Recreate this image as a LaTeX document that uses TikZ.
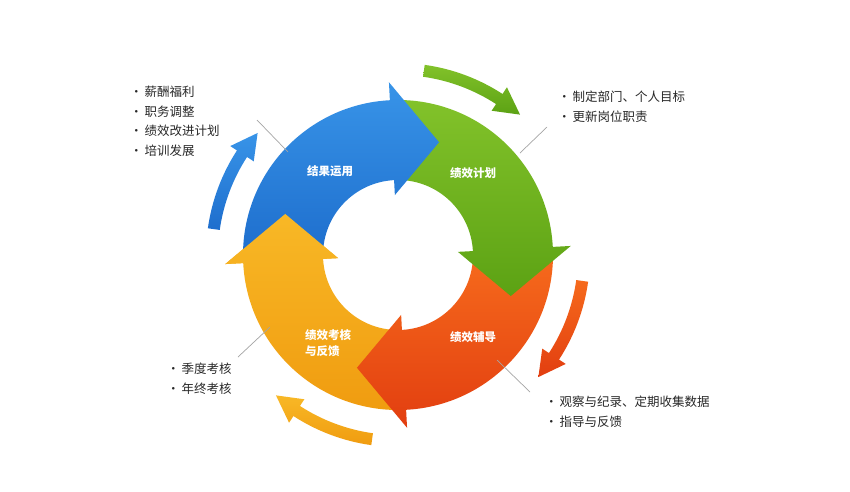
\documentclass[tikz,border=0pt]{standalone}
\usepackage{fontspec}
\setmainfont{Noto Sans CJK SC}
\definecolor{cyBlueT}{RGB}{56, 148, 232}
\definecolor{cyBlueB}{RGB}{30, 110, 205}
\definecolor{cyGreenT}{RGB}{130, 194, 42}
\definecolor{cyGreenB}{RGB}{92, 162, 20}
\definecolor{cyRedT}{RGB}{246, 106, 28}
\definecolor{cyRedB}{RGB}{226, 62, 16}
\definecolor{cyGoldT}{RGB}{248, 184, 38}
\definecolor{cyGoldB}{RGB}{240, 156, 16}
\definecolor{cyText}{RGB}{40, 40, 40}
\definecolor{cyLead}{RGB}{165, 165, 165}
\tikzset{
  Item/.style   = {anchor=west, inner sep=0pt, text=cyText, font=\fontsize{12.5}{14}\selectfont},
  Label/.style  = {text=white, align=left, inner sep=0pt, font=\fontsize{11.5}{15.5}\selectfont\bfseries},
  Leader/.style = {draw=cyLead, line width=0.7pt},
}
% big ring arrow, head base at angle #1
\newcommand{\ringpath}[1]{(#1+90:155) arc[start angle=#1+90, end angle=#1+3, radius=155]
  -- (#1+3:173) -- (#1-20:120) -- (#1+3:60) -- (#1+3:75)
  arc[start angle=#1+3, end angle=#1+90, radius=75] -- cycle}
\newcommand{\ringhead}[1]{(#1+3:173) -- (#1-20:120) -- (#1+3:60) -- cycle}
% small outer arrow, quarter #1
\newcommand{\turnpath}[1]{(#1-8:192) arc[start angle=#1-8, end angle=#1-33, radius=192]
  -- (#1-33:200) -- (#1-41:186) -- (#1-33:172) -- (#1-33:180)
  arc[start angle=#1-33, end angle=#1-8, radius=180] -- cycle}

\begin{document}
\begin{tikzpicture}[x=1pt, y=1pt]

\fill[white] (-398,-236) rectangle (452,255);
\useasboundingbox (-398,-236) rectangle (452,255);

% ======================= RING ============================================
% yellow, red, green, blue -- then the yellow head once more on top
\foreach \q/\ct/\cb in {180/cyGoldT/cyGoldB, 270/cyRedT/cyRedB,
                        0/cyGreenT/cyGreenB, 90/cyBlueT/cyBlueB}
    \shade[top color=\ct, bottom color=\cb] \ringpath{\q};
\begin{scope}
  \clip \ringhead{180};
  \shade[top color=cyGoldT, bottom color=cyGoldB] \ringpath{180};
\end{scope}

\node[Label] (lbUse)    at (-68, 84)  {结果运用};
\node[Label] (lbPlan)   at (75, 82)   {绩效计划};
\node[Label] (lbCoach)  at (75, -82)  {绩效辅导};
\node[Label] (lbReview) at (-70, -88) {绩效考核\\与反馈};

% ======================= OUTER ARROWS ====================================
\foreach \q/\ct/\cb in {90/cyGreenT/cyGreenB, 0/cyRedT/cyRedB,
                        270/cyGoldT/cyGoldB, 180/cyBlueT/cyBlueB}
    \shade[top color=\ct, bottom color=\cb] \turnpath{\q};

% ======================= LISTS ===========================================
\foreach \txt [count=\i] in {薪酬福利, 职务调整, 绩效改进计划, 培训发展}
    \node[Item] (tl\i) at (-268, 182.5-\i*19.5) {\textbullet\hspace{2pt}\txt};
\foreach \txt [count=\i] in {制定部门、个人目标, 更新岗位职责}
    \node[Item] (tr\i) at (160, 178-\i*20) {\textbullet\hspace{2pt}\txt};
\foreach \txt [count=\i] in {季度考核, 年终考核}
    \node[Item] (bl\i) at (-231, -94-\i*20) {\textbullet\hspace{2pt}\txt};
\foreach \txt [count=\i] in {观察与纪录、定期收集数据, 指导与反馈}
    \node[Item] (br\i) at (147, -127-\i*20) {\textbullet\hspace{2pt}\txt};

% leader lines
\coordinate (tlA) at (-141, 135);  \coordinate (tlB) at (-110, 103);
\coordinate (trA) at (149, 128);   \coordinate (trB) at (122, 102);
\coordinate (blA) at (-160, -102); \coordinate (blB) at (-128, -72);
\coordinate (brA) at (99, -105);   \coordinate (brB) at (132, -137);
\foreach \p in {tl, tr, bl, br}
    \draw[Leader] (\p A) -- (\p B);

\end{tikzpicture}
\end{document}
